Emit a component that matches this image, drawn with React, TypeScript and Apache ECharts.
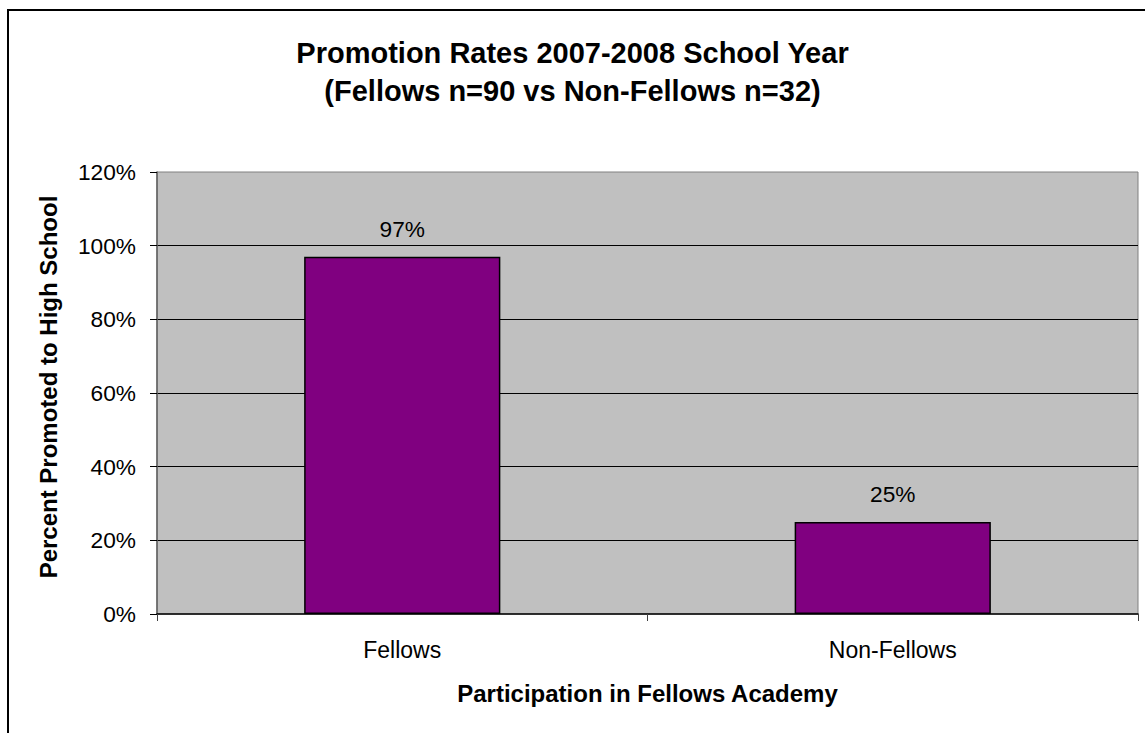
import React, { useEffect, useRef } from "react";
import * as echarts from "echarts";

const categories = ["Fellows", "Non-Fellows"];
const promotedRates = [0.97, 0.25];
const yTicks = { min: 0, max: 1.2, interval: 0.2 };
const titleLines = ["Promotion Rates 2007-2008 School Year", "(Fellows n=90 vs Non-Fellows n=32)"];
const xAxisName = "Participation in Fellows Academy";
const yAxisName = "Percent Promoted to High School";

const FONT = 'Arial, "Liberation Sans", Helvetica, sans-serif';

export default function App() {
  const ref = useRef<HTMLDivElement>(null);
  useEffect(() => {
    if (!ref.current) return;
    const chart = echarts.init(ref.current, null, { renderer: "svg" });
    const pct = (v: number) => `${Math.round(v * 100)}%`;
    chart.setOption({
      animation: false,
      backgroundColor: "#ffffff",
      textStyle: { fontFamily: FONT },
      title: {
        text: titleLines.join("\n"),
        left: "center",
        top: 34,
        padding: 0,
        textStyle: {
          fontFamily: FONT,
          fontSize: 29,
          fontWeight: "bold",
          color: "#000",
          lineHeight: 38,
        },
      },
      graphic: [
        {
          type: "rect",
          shape: { x: 8, y: 10, width: 1200, height: 800 },
          style: { fill: "none", stroke: "#000", lineWidth: 2 },
          silent: true,
          z: 100,
        },
      ],
      grid: {
        left: 157,
        top: 172,
        right: 7,
        bottom: 119,
        show: true,
        backgroundColor: "#C0C0C0",
        borderColor: "#808080",
        borderWidth: 1,
      },
      xAxis: {
        type: "category",
        data: categories,
        name: xAxisName,
        nameLocation: "middle",
        nameGap: 67,
        nameTextStyle: { fontFamily: FONT, fontSize: 24, fontWeight: "bold", color: "#000" },
        axisLine: { show: true, lineStyle: { color: "#000", width: 1.5 } },
        axisTick: { show: true, alignWithLabel: false, length: 7, lineStyle: { color: "#404040" } },
        axisLabel: { margin: 24, fontFamily: FONT, fontSize: 23, color: "#000" },
        splitLine: { show: false },
      },
      yAxis: {
        type: "value",
        min: yTicks.min,
        max: yTicks.max,
        interval: yTicks.interval,
        name: yAxisName,
        nameLocation: "middle",
        nameGap: 97,
        nameTextStyle: {
          fontFamily: FONT,
          fontSize: 24,
          fontWeight: "bold",
          color: "#000",
          padding: [0, 0, 0, 12],
        },
        axisLine: { show: true, lineStyle: { color: "#606060", width: 1.5 } },
        axisTick: { show: true, inside: false, length: 7, lineStyle: { color: "#000" } },
        axisLabel: { margin: 21, fontFamily: FONT, fontSize: 22.7, color: "#000", formatter: pct },
        splitLine: { show: true, showMinLine: false, showMaxLine: false, lineStyle: { color: "#000", width: 1 } },
      },
      series: [
        {
          type: "bar",
          data: promotedRates,
          barWidth: "40%",
          itemStyle: { color: "#800080", borderColor: "#000", borderWidth: 1.5 },
          label: {
            show: true,
            position: "top",
            distance: 16,
            fontFamily: FONT,
            fontSize: 22.7,
            color: "#000",
            formatter: (p: any) => pct(p.value),
          },
        },
      ],
    });
    return () => chart.dispose();
  }, []);
  return (
    <div
      ref={ref}
      style={{ position: "fixed", left: 0, top: 0, width: 1145, height: 733 }}
    />
  );
}
